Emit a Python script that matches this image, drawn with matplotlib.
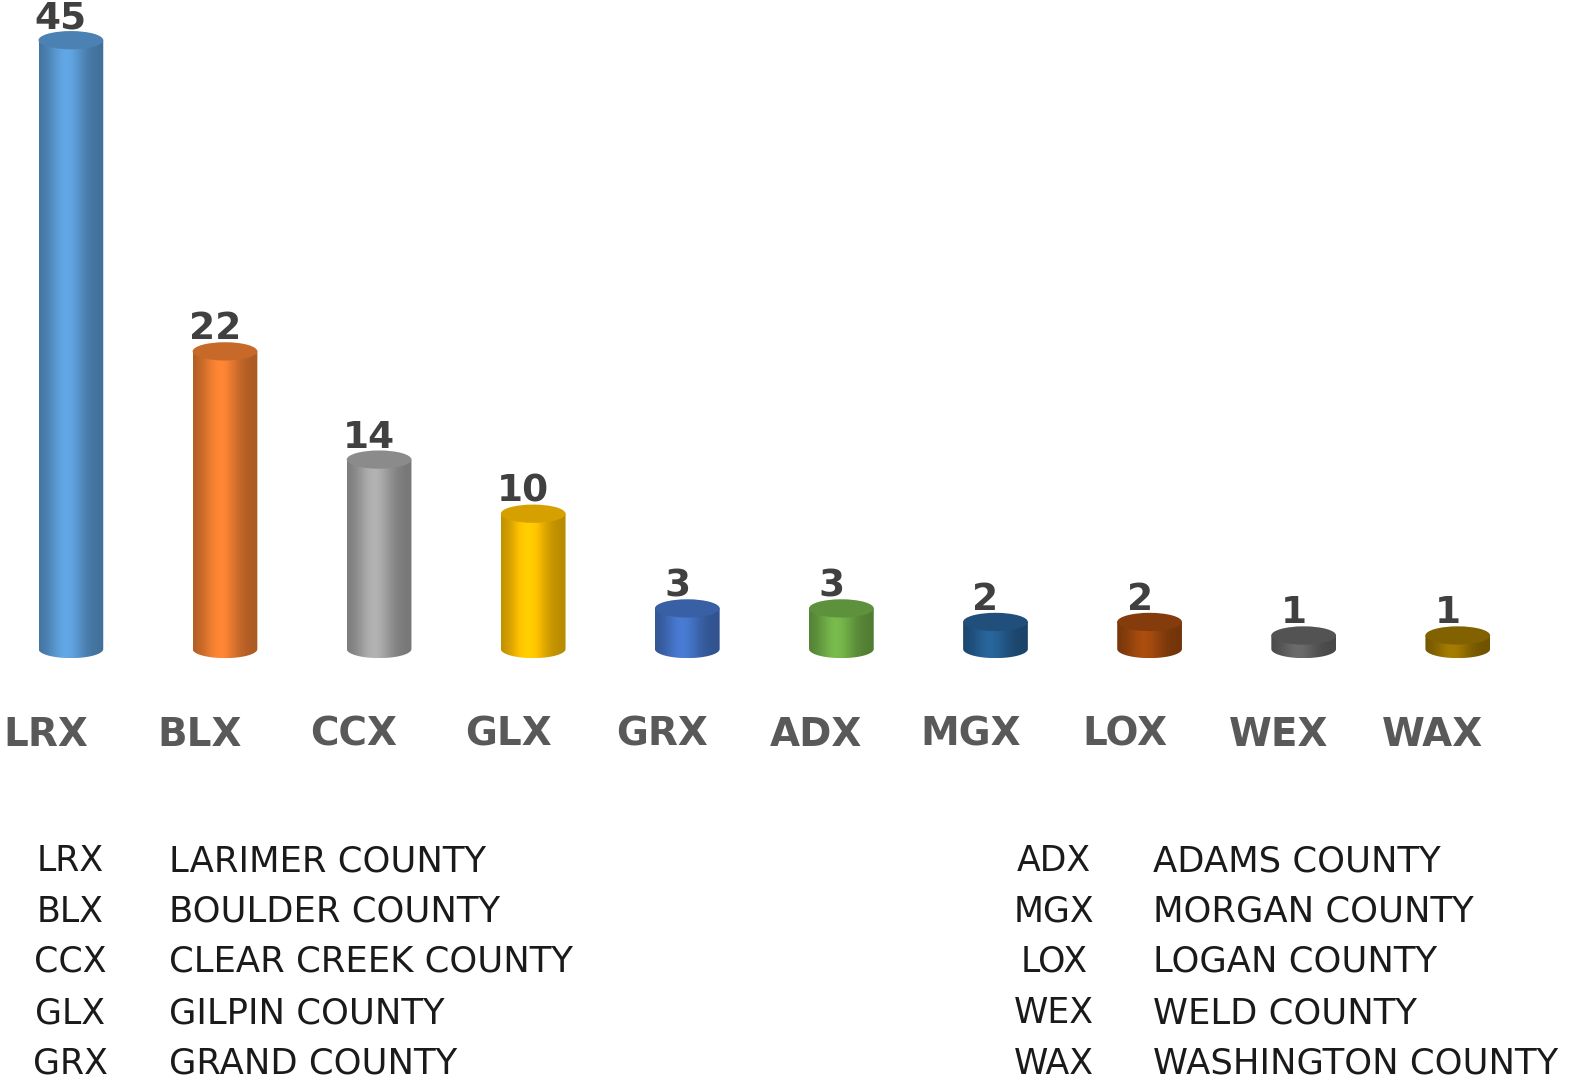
import numpy as np
import matplotlib.pyplot as plt
from matplotlib.patches import Ellipse, PathPatch
from matplotlib.path import Path
from matplotlib.colors import to_rgb

# data
codes = ['LRX', 'BLX', 'CCX', 'GLX', 'GRX', 'ADX', 'MGX', 'LOX', 'WEX', 'WAX']
values = [45, 22, 14, 10, 3, 3, 2, 2, 1, 1]
colors = ['#5B9BD5', '#ED7D31', '#A5A5A5', '#FFC000', '#4472C4',
          '#70AD47', '#255E91', '#9E480E', '#636363', '#997300']
names = ['LARIMER COUNTY', 'BOULDER COUNTY', 'CLEAR CREEK COUNTY', 'GILPIN COUNTY',
         'GRAND COUNTY', 'ADAMS COUNTY', 'MORGAN COUNTY', 'LOGAN COUNTY',
         'WELD COUNTY', 'WASHINGTON COUNTY']

W, H = 1588, 1081
fig = plt.figure(figsize=(W / 100, H / 100), dpi=100)
fig.patch.set_facecolor('white')

# axes occupy the top 700 px of the figure
ax = fig.add_axes([0, 1 - 700 / H, 1, 700 / H])
ax.set_xlim(-0.46, 9.845)
ax.set_ylim(-3.77, 47.97)
ax.axis('off')

bw = 0.42      # bar width in category units
eh = 1.35      # ellipse height in value units


def shade(c, t):
    base = np.array(to_rgb(c))
    m = 0.72 + 0.36 * np.exp(-((t - 0.42) / 0.28) ** 2)
    return np.clip(base[None, :] * m[:, None], 0, 1)


t = np.linspace(0, 1, 200)
for i, (v, c) in enumerate(zip(values, colors)):
    x0, x1 = i - bw / 2, i + bw / 2
    # body: rectangle + lower half ellipse
    th = np.linspace(np.pi, 2 * np.pi, 60)
    arc = np.column_stack([i + bw / 2 * np.cos(th), eh / 2 * np.sin(th)])
    verts = np.vstack([[x0, v], [x0, 0], arc, [x1, 0], [x1, v], [x0, v]])
    codes_p = [Path.MOVETO] + [Path.LINETO] * (len(verts) - 2) + [Path.CLOSEPOLY]
    body = PathPatch(Path(verts, codes_p), facecolor='none', edgecolor='none')
    ax.add_patch(body)
    grad = shade(c, t)[None, :, :]
    im = ax.imshow(grad, extent=[x0, x1, -eh / 2, v], aspect='auto',
                   interpolation='bilinear', zorder=2)
    im.set_clip_path(body)
    # top ellipse
    top = np.clip(np.array(to_rgb(c)) * 0.84, 0, 1)
    ax.add_patch(Ellipse((i, v), bw, eh, facecolor=top, edgecolor='none', zorder=3))
    # value label
    ax.annotate(str(v), xy=(i, v), xytext=(-10, 12), textcoords='offset pixels',
                ha='center', va='baseline', fontsize=27, fontweight='bold',
                color='#404040', zorder=4)
    # category label
    ax.annotate(codes[i], xy=(i, 0), xytext=(-25, -86), textcoords='offset pixels',
                ha='center', va='center', fontsize=28, fontweight='bold',
                color='#595959', annotation_clip=False)

# legend table under the chart
rows_y = [861, 911.5, 962, 1013, 1063.5]
for k in range(5):
    for col, (cx, nx) in enumerate([(70, 169), (1054, 1153)]):
        j = col * 5 + k
        fy = 1 - rows_y[k] / H
        fig.text(cx / W, fy, codes[j], ha='center', va='center',
                 fontsize=25, color='#1a1a1a')
        fig.text(nx / W, fy, names[j], ha='left', va='center',
                 fontsize=25.5, color='#1a1a1a')

fig.savefig('out.png', dpi=100, facecolor='white')
